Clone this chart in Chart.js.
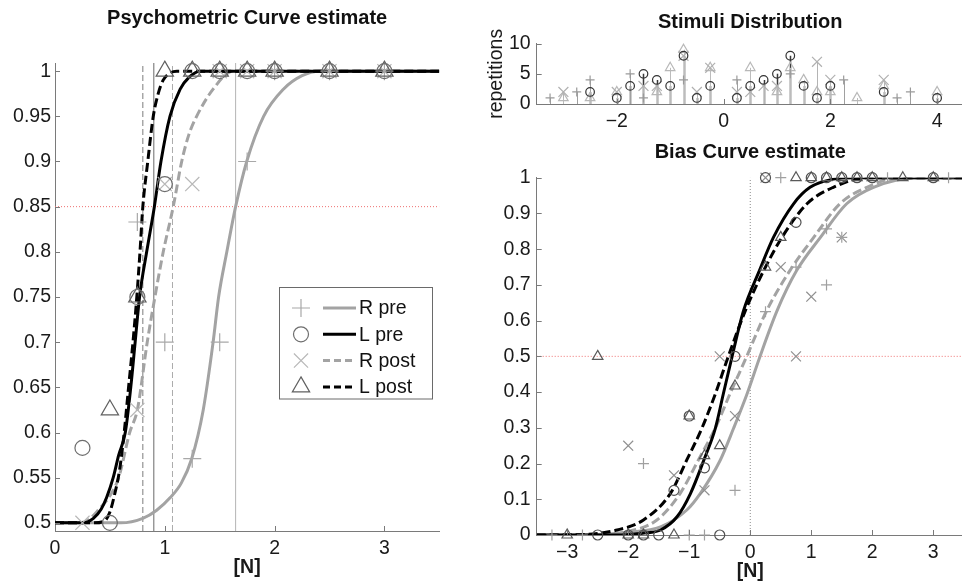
<!DOCTYPE html>
<html>
<head>
<meta charset="utf-8">
<script src="https://cdn.jsdelivr.net/npm/chart.js@4.4.1/dist/chart.umd.min.js"></script>
<style>
html,body{margin:0;padding:0;background:#fff;}
body{width:962px;height:585px;overflow:hidden;position:relative;}
canvas{position:absolute;}
#psy{left:0;top:0;}
#stim{left:470px;top:0;}
#bias{left:470px;top:130px;}
</style>
</head>
<body>
<canvas id="psy" width="480" height="585"></canvas>
<canvas id="stim" width="502" height="134"></canvas>
<canvas id="bias" width="502" height="455"></canvas>
<script>
/* ---------- data ---------- */

// Psychometric curve estimate (left)
const psyXTicks = [0, 1, 2, 3];
const psyYTicks = [0.5, 0.55, 0.6, 0.65, 0.7, 0.75, 0.8, 0.85, 0.9, 0.95, 1];
const psyXMin = 0, psyXMax = 3.5, psyYMin = 0.491, psyYMax = 1.009;

const psyRpreCurveX  = [0, 0.6, 0.8, 0.926, 1.05, 1.15, 1.245, 1.35, 1.44, 1.49, 1.565, 1.645, 1.746, 1.9, 2.08, 2.25, 2.41, 3.5];
const psyRpreCurveY  = [0.5, 0.5, 0.505, 0.514, 0.528, 0.544, 0.571, 0.625, 0.7, 0.75, 0.8, 0.85, 0.9, 0.95, 0.98, 0.995, 1, 1];
const psyLpreCurveX  = [0, 0.25, 0.35, 0.42, 0.47, 0.53, 0.58, 0.64, 0.69, 0.73, 0.77, 0.835, 0.905, 0.965, 1.047, 1.14, 1.22, 1.32, 3.5];
const psyLpreCurveY  = [0.5, 0.5, 0.505, 0.515, 0.528, 0.55, 0.575, 0.6, 0.65, 0.7, 0.75, 0.8, 0.85, 0.9, 0.95, 0.98, 0.993, 1, 1];
const psyRpostCurveX = [0, 0.2, 0.3, 0.4, 0.5, 0.58, 0.68, 0.75, 0.84, 0.91, 0.986, 1.077, 1.154, 1.22, 1.29, 1.44, 1.62, 3.5];
const psyRpostCurveY = [0.5, 0.5, 0.503, 0.515, 0.53, 0.55, 0.6, 0.625, 0.7, 0.75, 0.8, 0.85, 0.9, 0.93, 0.95, 0.98, 1, 1];
const psyLpostCurveX = [0, 0.35, 0.45, 0.5, 0.54, 0.59, 0.63, 0.67, 0.71, 0.745, 0.774, 0.8, 0.845, 0.895, 0.94, 0.985, 1.05, 1.11, 3.5];
const psyLpostCurveY = [0.5, 0.5, 0.502, 0.512, 0.53, 0.56, 0.6, 0.65, 0.7, 0.75, 0.8, 0.85, 0.9, 0.95, 0.975, 0.99, 0.998, 1, 1];

const psyRpreX  = [0.75, 1.0, 1.25, 1.5, 1.75, 2, 2.5, 3];
const psyRpreY  = [0.833, 0.7, 0.571, 0.7, 0.9, 1, 1, 1];
const psyLpreX  = [0.25, 0.5, 0.75, 1.0, 1.25, 1.5, 1.75, 2, 2.5, 3];
const psyLpreY  = [0.583, 0.5, 0.75, 0.875, 1, 1, 1, 1, 1, 1];
const psyRpostX = [0.25, 0.75, 1.0, 1.25, 1.5, 1.75, 2, 2.5, 3];
const psyRpostY = [0.5, 0.625, 0.875, 0.875, 1, 1, 1, 1, 1];
const psyLpostX = [0.5, 0.75, 1.0, 1.25, 1.5, 1.75, 2, 2.5, 3];
const psyLpostY = [0.625, 0.75, 1, 1, 1, 1, 1, 1, 1];

const psyCriterion = 0.85;
const psyThresholds = [0.8, 0.9, 1.07, 1.645];   // L post, L pre, R post, R pre
const legendLabels = ["R pre", "L pre", "R post", "L post"];

// Stimuli distribution (top right)
const stimXTicks = [-2, 0, 2, 4];
const stimYTicks = [0, 5, 10];
const stimXMin = -3.5, stimXMax = 4.5, stimYMin = 0, stimYMax = 10;

const stimRpreX  = [-3.25, -2.75, -2.5, -1.75, -1.5, -0.75, 0.25, 1.25, 2.25, 3.25, 3.5];
const stimRpreY  = [1, 2, 4, 5, 1, 4, 4, 5, 4, 1, 2];
const stimLpreX  = [-2.5, -2, -1.75, -1.5, -1.25, -1, -0.75, -0.5, -0.25, 0.25, 0.5, 0.75, 1, 1.25, 1.5, 1.75, 2, 3, 4];
const stimLpreY  = [2, 1, 3, 5, 4, 3, 8, 1, 3, 1, 3, 4, 5, 8, 3, 1, 3, 2, 1];
const stimRpostX = [-3, -2, -1.5, -1.25, -0.75, -0.5, -0.25, 0.25, 0.5, 0.75, 1, 1.75, 2, 3];
const stimRpostY = [2, 2, 3, 3, 8, 2, 6, 2, 2, 3, 3, 7, 4, 4];
const stimLpostX = [-3, -2.5, -2, -1.25, -1, -0.75, -0.25, 0.5, 1, 1.25, 1.5, 1.75, 2, 2.5, 3, 4];
const stimLpostY = [1, 1, 2, 2, 6, 9, 6, 6, 2, 6, 4, 2, 2, 1, 3, 2];

// Bias curve estimate (bottom right)
const biasXTicks = [-3, -2, -1, 0, 1, 2, 3];
const biasYTicks = [0, 0.1, 0.2, 0.3, 0.4, 0.5, 0.6, 0.7, 0.8, 0.9, 1];
const biasXMin = -3.5, biasXMax = 3.5, biasYMin = 0, biasYMax = 1;

const biasRpreCurveX  = [-3.5, -2.6, -2.0, -1.47, -1.04, -0.82, -0.49, -0.27, -0.05, 0.15, 0.44, 0.76, 1.15, 1.58, 2.02, 2.73, 3.5];
const biasRpreCurveY  = [0, 0.001, 0.008, 0.023, 0.07, 0.116, 0.21, 0.3, 0.396, 0.495, 0.628, 0.74, 0.833, 0.927, 0.973, 1, 1];
const biasLpreCurveX  = [-3.5, -2.2, -1.96, -1.7, -1.47, -1.2, -0.98, -0.76, -0.57, -0.44, -0.3, -0.11, 0.15, 0.38, 0.71, 0.98, 1.36, 1.7, 3.5];
const biasLpreCurveY  = [0, 0, 0.002, 0.006, 0.014, 0.051, 0.116, 0.21, 0.3, 0.396, 0.498, 0.628, 0.74, 0.833, 0.927, 0.973, 0.996, 1, 1];
const biasRpostCurveX = [-3.5, -2.6, -2.0, -1.53, -1.15, -0.85, -0.57, -0.33, -0.07, 0.27, 0.65, 1.04, 1.47, 1.91, 2.45, 3.5];
const biasRpostCurveY = [0, 0.001, 0.01, 0.042, 0.116, 0.21, 0.3, 0.396, 0.495, 0.628, 0.74, 0.833, 0.927, 0.973, 1, 1];
const biasLpostCurveX = [-3.5, -2.78, -2.18, -1.75, -1.31, -1.04, -0.79, -0.57, -0.37, -0.08, 0.22, 0.52, 0.93, 1.36, 1.91, 3.5];
const biasLpostCurveY = [0, 0.001, 0.014, 0.042, 0.116, 0.21, 0.3, 0.396, 0.495, 0.628, 0.74, 0.833, 0.927, 0.973, 1, 1];

const biasRpreX  = [-3.25, -2.75, -1.75, -1, -0.75, -0.25, 0.25, 0.5, 0.75, 1.25, 1.25, 1.5, 2.25, 3.25];
const biasRpreY  = [0, 0, 0.2, 0, 0, 0.125, 0.625, 1, 0.75, 0.857, 0.7, 0.833, 1, 1];
const biasLpreX  = [-2.5, -2, -1.75, -1.5, -1.25, -1, -0.75, -0.5, -0.25, 0.25, 0.75, 1, 1.25, 1.5, 1.75, 2, 3];
const biasLpreY  = [0, 0, 0, 0, 0.125, 0.333, 0.188, 0, 0.5, 1, 0.875, 1, 1, 1, 1, 1, 1];
const biasRpostX = [-2, -1.25, -0.75, -0.5, -0.25, 0.25, 0.5, 0.75, 1, 1.5];
const biasRpostY = [0.25, 0.167, 0.125, 0.5, 0.333, 1, 0.75, 0.5, 0.667, 0.833];
const biasLpostX = [-3, -2.5, -2, -1.75, -1.25, -1, -0.75, -0.5, -0.25, 0.25, 0.5, 0.75, 1, 1.25, 1.5, 1.75, 2, 2.5, 3];
const biasLpostY = [0, 0.5, 0, 0, 0, 0.333, 0.222, 0.25, 0.417, 0.75, 0.833, 1, 1, 1, 1, 1, 1, 1, 1];

const biasCriterion = 0.5;
const biasPSE = 0;


/* ---------- helpers ---------- */

Chart.defaults.font.family = "'Liberation Sans', Arial, sans-serif";
Chart.defaults.font.size = 19.5;
Chart.defaults.color = "#1a1a1a";

const pts = (xs, ys) => xs.map((x, i) => ({x: x, y: ys[i]}));
const fmt = v => (v < 0 ? "\u2212" + Math.abs(v) : String(v));

const GREY = "#a3a3a3";
const AXIS = "#7a7a7a";

function marker(xs, ys, style, color, radius){
  return {
    data: pts(xs, ys), pointStyle: style, pointRadius: radius,
    pointBorderColor: color, pointBackgroundColor: "rgba(0,0,0,0)",
    pointBorderWidth: 1.2, showLine: false, clip: false
  };
}
function curve(xs, ys, color, dash){
  return {
    data: pts(xs, ys), showLine: true, pointRadius: 0, borderColor: color,
    borderWidth: 3, borderDash: dash || [], cubicInterpolationMode: "monotone", fill: false
  };
}
function rule(data, color, dash, width){
  return {data: data, showLine: true, pointRadius: 0, borderColor: color,
    borderWidth: width || 1, borderDash: dash || [], fill: false};
}

function axis(min, max, ticks, size, title, titlePad){
  return {
    type: "linear", min: min, max: max,
    grid: {display: false, drawTicks: false},
    border: {display: true, color: AXIS, width: 1},
    ticks: {callback: v => fmt(v), autoSkip: false, maxRotation: 0, padding: 6, color: "#1a1a1a"},
    afterBuildTicks: s => { s.ticks = ticks.map(v => ({value: v})); },
    afterFit: s => { if (s.isHorizontal()) s.height = size; else s.width = size; },
    title: title ? {display: true, text: title, font: {size: 19.5, weight: titlePad.bold ? "bold" : "normal"},
      padding: titlePad.pad, color: "#1a1a1a"} : {display: false}
  };
}

// MATLAB-like inward tick marks
const inwardTicks = {
  id: "inwardTicks",
  afterDraw(chart){
    const {ctx, chartArea: a} = chart;
    const sx = chart.scales.x, sy = chart.scales.y;
    ctx.save();
    ctx.strokeStyle = AXIS; ctx.lineWidth = 1;
    ctx.beginPath();
    sx.ticks.forEach(t => {
      const px = Math.round(sx.getPixelForValue(t.value)) + 0.5;
      ctx.moveTo(px, a.bottom); ctx.lineTo(px, a.bottom - 5);
    });
    sy.ticks.forEach(t => {
      const py = Math.round(sy.getPixelForValue(t.value)) + 0.5;
      ctx.moveTo(a.left, py); ctx.lineTo(a.left + 5, py);
    });
    ctx.stroke();
    ctx.restore();
  }
};

// stem lines from each marker down to zero
const stems = {
  id: "stems",
  beforeDatasetsDraw(chart){
    const ctx = chart.ctx;
    const y0 = chart.scales.y.getPixelForValue(0);
    chart.data.datasets.forEach((ds, i) => {
      if (!ds.stemColor) return;
      const meta = chart.getDatasetMeta(i);
      ctx.save();
      ctx.strokeStyle = ds.stemColor; ctx.lineWidth = ds.stemWidth || 1;
      ctx.beginPath();
      meta.data.forEach(p => {
        const px = Math.round(p.x) + 0.5;
        ctx.moveTo(px, p.y); ctx.lineTo(px, y0);
      });
      ctx.stroke();
      ctx.restore();
    });
  }
};

// legend box with marker + line sample, like the MATLAB one
const legendStyles = [
  {style: "cross",    r: 9,   mcol: "#a8a8a8", lcol: GREY,   dash: []},
  {style: "circle",   r: 7.5, mcol: "#6e6e6e", lcol: "#000", dash: []},
  {style: "crossRot", r: 10,  mcol: "#b8b8b8", lcol: GREY,   dash: [7, 4]},
  {style: "triangle", r: 10,  mcol: "#606060", lcol: "#000", dash: [7, 4]}
];
const psyLegend = {
  id: "psyLegend",
  afterDraw(chart){
    const ctx = chart.ctx;
    ctx.save();
    ctx.fillStyle = "#fff";
    ctx.fillRect(279.5, 287.5, 153, 111.5);
    ctx.strokeStyle = "#6a6a6a"; ctx.lineWidth = 1;
    ctx.strokeRect(279.5, 287.5, 153, 111.5);
    ctx.font = "19.5px 'Liberation Sans', Arial, sans-serif";
    ctx.textBaseline = "middle";
    legendLabels.forEach((lab, i) => {
      const st = legendStyles[i];
      const cy = 308 + i * 26.3;
      ctx.strokeStyle = st.mcol; ctx.fillStyle = "rgba(0,0,0,0)"; ctx.lineWidth = 1.2; ctx.setLineDash([]);
      Chart.helpers.drawPoint(ctx, {pointStyle: st.style, radius: st.r, borderWidth: 1.2, rotation: 0}, 301, cy);
      ctx.strokeStyle = st.lcol; ctx.lineWidth = 3; ctx.setLineDash(st.dash);
      ctx.beginPath(); ctx.moveTo(323, cy); ctx.lineTo(356, cy); ctx.stroke();
      ctx.setLineDash([]);
      ctx.fillStyle = "#111";
      ctx.fillText(lab, 359, cy + 1);
    });
    ctx.restore();
  }
};

const basePlugins = (titleText, pad) => ({
  legend: {display: false},
  tooltip: {enabled: false},
  title: {display: true, text: titleText, fullSize: false, color: "#111",
    font: {size: 20, weight: "bold"}, padding: pad}
});


/* ---------- Psychometric Curve estimate ---------- */

new Chart(document.getElementById("psy"), {
  type: "scatter",
  data: {datasets: [
    marker(psyLpreX,  psyLpreY,  "circle",   "#6e6e6e", 7.5),
    marker(psyLpostX, psyLpostY, "triangle", "#606060", 10),
    marker(psyRpreX,  psyRpreY,  "cross",    "#a8a8a8", 9),
    marker(psyRpostX, psyRpostY, "crossRot", "#b8b8b8", 10),
    curve(psyLpostCurveX, psyLpostCurveY, "#000", [9, 4]),
    curve(psyLpreCurveX,  psyLpreCurveY,  "#000"),
    curve(psyRpostCurveX, psyRpostCurveY, GREY, [9, 4]),
    curve(psyRpreCurveX,  psyRpreCurveY,  GREY),
    rule([{x: psyThresholds[0], y: psyYMin}, {x: psyThresholds[0], y: psyYMax}], "#7c7c7c", [6, 3]),
    rule([{x: psyThresholds[1], y: psyYMin}, {x: psyThresholds[1], y: psyYMax}], "#6a6a6a"),
    rule([{x: psyThresholds[2], y: psyYMin}, {x: psyThresholds[2], y: psyYMax}], "#acacac", [6, 3]),
    rule([{x: psyThresholds[3], y: psyYMin}, {x: psyThresholds[3], y: psyYMax}], "#b4b4b4"),
    rule([{x: psyXMin, y: psyCriterion}, {x: psyXMax, y: psyCriterion}], "#ee7070", [1, 2])
  ]},
  options: {
    responsive: false, animation: false,
    layout: {padding: {left: 0, right: 40.7, top: 0, bottom: 0}},
    plugins: basePlugins("Psychometric Curve estimate", {top: 6.5, bottom: 32.5}),
    scales: {
      x: axis(psyXMin, psyXMax, psyXTicks, 54, "[N]", {bold: true, pad: {top: 0, bottom: 6}}),
      y: Object.assign(axis(psyYMin, psyYMax, psyYTicks, 55), {ticks: {callback: v => fmt(v), autoSkip: false, padding: 4, color: "#1a1a1a"}})
    }
  },
  plugins: [inwardTicks, psyLegend]
});


/* ---------- Stimuli Distribution ---------- */

function stemSet(xs, ys, style, color, radius, stemColor, stemWidth){
  const d = marker(xs, ys, style, color, radius);
  d.stemColor = stemColor; d.stemWidth = stemWidth;
  return d;
}

new Chart(document.getElementById("stim"), {
  type: "scatter",
  data: {datasets: [
    stemSet(stimLpreX,  stimLpreY,  "circle",   "#333", 4.3, "#3a3a3a", 1.5),
    stemSet(stimRpreX,  stimRpreY,  "cross",    "#9a9a9a", 4.5, "#a0a0a0", 1),
    stemSet(stimRpostX, stimRpostY, "crossRot", "#b0b0b0", 7, "#b4b4b4", 1),
    stemSet(stimLpostX, stimLpostY, "triangle", "#b8b8b8", 5.5, "#bcbcbc", 1)
  ]},
  options: {
    responsive: false, animation: false,
    layout: {padding: {left: 0, right: 0.5, top: 0, bottom: 0}},
    plugins: basePlugins("Stimuli Distribution", {top: 10, bottom: 9.7}),
    scales: {
      x: axis(stimXMin, stimXMax, stimXTicks, 30),
      y: axis(stimYMin, stimYMax, stimYTicks, 66.7, "repetitions", {bold: false, pad: {top: 15, bottom: 0}})
    }
  },
  plugins: [stems, inwardTicks]
});


/* ---------- Bias Curve estimate ---------- */

new Chart(document.getElementById("bias"), {
  type: "scatter",
  data: {datasets: [
    marker(biasLpreX,  biasLpreY,  "circle",   "#505050", 5),
    marker(biasLpostX, biasLpostY, "triangle", "#5a5a5a", 6),
    marker(biasRpreX,  biasRpreY,  "cross",    "#a0a0a0", 5.5),
    marker(biasRpostX, biasRpostY, "crossRot", "#909090", 7),
    curve(biasLpreCurveX,  biasLpreCurveY,  "#000"),
    curve(biasLpostCurveX, biasLpostCurveY, "#000", [9, 4]),
    curve(biasRpostCurveX, biasRpostCurveY, GREY, [9, 4]),
    curve(biasRpreCurveX,  biasRpreCurveY,  GREY),
    rule([{x: biasPSE, y: biasYMin}, {x: biasPSE, y: biasYMax}], "#8a8a8a", [1, 2]),
    rule([{x: biasXMin, y: biasCriterion}, {x: biasXMax, y: biasCriterion}], "#ee7070", [1, 2])
  ]},
  options: {
    responsive: false, animation: false,
    layout: {padding: {left: 0, right: 0.5, top: 0, bottom: 0}},
    plugins: basePlugins("Bias Curve estimate", {top: 10.3, bottom: 13.4}),
    scales: {
      x: axis(biasXMin, biasXMax, biasXTicks, 50, "[N]", {bold: true, pad: {top: 0, bottom: 2}}),
      y: axis(biasYMin, biasYMax, biasYTicks, 66.7)
    }
  },
  plugins: [inwardTicks]
});
</script>
</body>
</html>
